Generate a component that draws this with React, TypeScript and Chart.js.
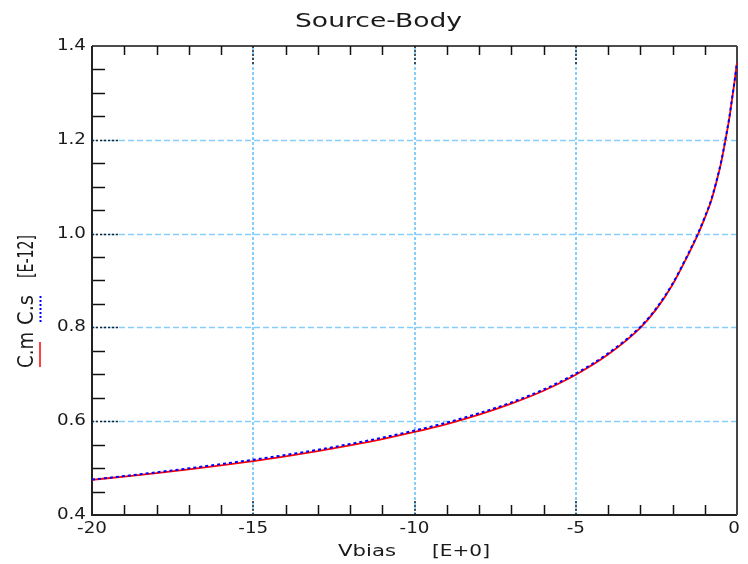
import { useEffect, useRef } from "react";
import { Chart, registerables } from "chart.js";

Chart.register(...registerables);

// ---- data ----
const vbias = [-20, -19, -18, -17, -16, -15, -14, -13, -12, -11, -10, -9, -8, -7, -6, -5, -4, -3, -2.5, -2, -1.6, -1.2, -1.0, -0.8, -0.63, -0.48, -0.37, -0.24, -0.16, -0.08, 0];
const cm = [0.475, 0.482, 0.4895, 0.4975, 0.506, 0.515, 0.525, 0.536, 0.5483, 0.5618, 0.577, 0.594, 0.614, 0.6375, 0.665, 0.699, 0.742, 0.799, 0.839, 0.891, 0.943, 1.000, 1.033, 1.070, 1.112, 1.155, 1.195, 1.245, 1.283, 1.322, 1.365];
const cs = [0.4755, 0.483, 0.491, 0.4995, 0.5085, 0.5178, 0.528, 0.539, 0.5513, 0.5648, 0.580, 0.597, 0.617, 0.640, 0.6675, 0.7015, 0.7445, 0.801, 0.841, 0.893, 0.945, 1.002, 1.035, 1.072, 1.114, 1.157, 1.197, 1.247, 1.285, 1.323, 1.365];

const xTickValues = [-20, -15, -10, -5, 0];
const xTickLabels = ["-20", "-15", "-10", "-5", "0"];
const yTickValues = [0.4, 0.6, 0.8, 1.0, 1.2, 1.4];
const yTickLabels = ["0.4", "0.6", "0.8", "1.0", "1.2", "1.4"];
const xMinorStep = 1;
const yMinorStep = 0.05;

const titleText = "Source-Body";
const xTitleParts = ["Vbias", "[E+0]"];
const yTitleParts = ["C.m", "C.s", "[E-12]"];

const FONT = "'DejaVu Sans', 'Liberation Sans', sans-serif";
const GRID = "rgb(135,206,250)";
const INK = "#1a1a1a";

function fitText(ctx: CanvasRenderingContext2D, text: string, x: number, y: number, size: number, width: number) {
  ctx.save();
  ctx.font = `${size}px ${FONT}`;
  const w = ctx.measureText(text).width;
  ctx.translate(x, y);
  ctx.scale(width / w, 1);
  ctx.textAlign = "left";
  ctx.textBaseline = "alphabetic";
  ctx.fillStyle = INK;
  ctx.fillText(text, 0, 0);
  ctx.restore();
}

function stretchedText(ctx: CanvasRenderingContext2D, text: string, x: number, y: number, size: number, sx: number, align: CanvasTextAlign) {
  ctx.save();
  ctx.font = `${size}px ${FONT}`;
  ctx.translate(x, y);
  ctx.scale(sx, 1);
  ctx.textAlign = align;
  ctx.textBaseline = "alphabetic";
  ctx.fillStyle = INK;
  ctx.fillText(text, 0, 0);
  ctx.restore();
}

// rotated text: runs upward from (x, yStart) over length len, baseline at x
function rotatedFit(ctx: CanvasRenderingContext2D, text: string, x: number, yStart: number, len: number, size: number, sy: number) {
  ctx.save();
  ctx.font = `${size}px ${FONT}`;
  const w = ctx.measureText(text).width;
  ctx.translate(x, yStart);
  ctx.rotate(-Math.PI / 2);
  ctx.scale(len / w, sy);
  ctx.textAlign = "left";
  ctx.textBaseline = "alphabetic";
  ctx.fillStyle = INK;
  ctx.fillText(text, 0, 0);
  ctx.restore();
}

const framePlugin = {
  id: "framePlugin",
  beforeDatasetsDraw(chart: any) {
    const ctx: CanvasRenderingContext2D = chart.ctx;
    const xs = chart.scales.x;
    const ys = chart.scales.y;
    const { left, right, top, bottom } = chart.chartArea;
    ctx.save();
    // horizontal grid (dashed)
    ctx.strokeStyle = GRID;
    ctx.lineWidth = 1.5;
    ctx.setLineDash([6, 3]);
    yTickValues.forEach((v) => {
      if (v <= ys.min || v >= ys.max) return;
      const y = Math.round(ys.getPixelForValue(v)) + 0.5;
      ctx.beginPath();
      ctx.moveTo(left, y);
      ctx.lineTo(right, y);
      ctx.stroke();
    });
    // vertical grid (dotted)
    ctx.lineWidth = 2;
    ctx.setLineDash([3, 2]);
    xTickValues.forEach((v) => {
      if (v <= xs.min || v >= xs.max) return;
      const x = Math.round(xs.getPixelForValue(v));
      ctx.beginPath();
      ctx.moveTo(x, bottom);
      ctx.lineTo(x, top);
      ctx.stroke();
    });
    // major ticks: black dotted
    ctx.strokeStyle = "#222";
    ctx.lineWidth = 1.5;
    ctx.setLineDash([2, 2]);
    xTickValues.forEach((v) => {
      if (v <= xs.min || v >= xs.max) return;
      const x = Math.round(xs.getPixelForValue(v));
      ctx.beginPath();
      ctx.moveTo(x, bottom);
      ctx.lineTo(x, bottom - 15);
      ctx.moveTo(x, top);
      ctx.lineTo(x, top + 19);
      ctx.stroke();
    });
    yTickValues.forEach((v) => {
      if (v <= ys.min || v >= ys.max) return;
      const y = Math.round(ys.getPixelForValue(v)) + 0.5;
      ctx.beginPath();
      ctx.moveTo(left, y);
      ctx.lineTo(left + 26, y);
      ctx.stroke();
    });
    ctx.setLineDash([]);
    // minor ticks (inward)
    ctx.strokeStyle = "#111";
    ctx.lineWidth = 1.5;
    const nx = Math.round((xs.max - xs.min) / xMinorStep);
    for (let i = 1; i < nx; i++) {
      const v = xs.min + i * xMinorStep;
      if (xTickValues.some((t) => Math.abs(t - v) < 1e-6)) continue;
      const x = Math.round(xs.getPixelForValue(v)) + 0.5;
      ctx.beginPath();
      ctx.moveTo(x, bottom);
      ctx.lineTo(x, bottom - 10);
      ctx.moveTo(x, top);
      ctx.lineTo(x, top + 9);
      ctx.stroke();
    }
    const ny = Math.round((ys.max - ys.min) / yMinorStep);
    for (let i = 1; i < ny; i++) {
      const v = ys.min + i * yMinorStep;
      if (yTickValues.some((t) => Math.abs(t - v) < 1e-6)) continue;
      const y = Math.round(ys.getPixelForValue(v)) + 0.5;
      ctx.beginPath();
      ctx.moveTo(left, y);
      ctx.lineTo(left + 13, y);
      ctx.stroke();
    }
    // frame
    ctx.lineWidth = 2;
    ctx.strokeStyle = "#222";
    ctx.beginPath();
    ctx.moveTo(left, top);
    ctx.lineTo(left, bottom);
    ctx.lineTo(right, bottom);
    ctx.stroke();
    ctx.lineWidth = 1.5;
    ctx.strokeStyle = "#111";
    ctx.beginPath();
    ctx.moveTo(left, top);
    ctx.lineTo(right, top);
    ctx.stroke();
    ctx.lineWidth = 2;
    ctx.strokeStyle = "#444";
    ctx.beginPath();
    ctx.moveTo(right, top);
    ctx.lineTo(right, bottom);
    ctx.stroke();

    // tick labels
    xTickValues.forEach((v, i) => {
      let x = xs.getPixelForValue(v);
      if (i === xTickValues.length - 1) x -= 3;
      stretchedText(ctx, xTickLabels[i], x, bottom + 18, 15, 1.22, "center");
    });
    yTickValues.forEach((v, i) => {
      const y = ys.getPixelForValue(v);
      stretchedText(ctx, yTickLabels[i], left - 6, y + 4, 15, 1.22, "right");
    });

    // titles
    fitText(ctx, titleText, 295, 26.5, 19, 167);
    fitText(ctx, xTitleParts[0], 338, 556, 15, 58);
    fitText(ctx, xTitleParts[1], 432, 556, 15, 58);
    rotatedFit(ctx, yTitleParts[0], 33, 368, 36, 15, 1.4);
    rotatedFit(ctx, yTitleParts[1], 33, 325, 30, 15, 1.4);
    rotatedFit(ctx, yTitleParts[2], 33, 278, 43, 15, 1.4);

    // legend swatches beside y title
    ctx.lineWidth = 1.5;
    ctx.strokeStyle = "#ff0000";
    ctx.beginPath();
    ctx.moveTo(40, 367);
    ctx.lineTo(40, 342);
    ctx.stroke();
    ctx.lineWidth = 2;
    ctx.strokeStyle = "#0000ff";
    ctx.setLineDash([2, 2]);
    ctx.beginPath();
    ctx.moveTo(40.5, 322);
    ctx.lineTo(40.5, 295);
    ctx.stroke();
    ctx.restore();
  },
};

export default function App() {
  const canvasRef = useRef<HTMLCanvasElement | null>(null);

  useEffect(() => {
    if (!canvasRef.current) return;
    const chart = new Chart(canvasRef.current, {
      type: "line",
      data: {
        datasets: [
          {
            label: "C.s",
            data: vbias.map((x, i) => ({ x, y: cs[i] })),
            borderColor: "#0000ff",
            borderWidth: 2,
            borderDash: [3, 3],
            pointRadius: 0,
            cubicInterpolationMode: "monotone",
            fill: false,
            order: 0,
          },
          {
            label: "C.m",
            data: vbias.map((x, i) => ({ x, y: cm[i] })),
            borderColor: "#ff0000",
            borderWidth: 1.8,
            pointRadius: 0,
            cubicInterpolationMode: "monotone",
            fill: false,
            order: 1,
          },
        ],
      },
      options: {
        animation: false,
        responsive: true,
        maintainAspectRatio: false,
        layout: { padding: { left: 92, right: 11, top: 46, bottom: 49 } },
        plugins: {
          legend: { display: false },
          title: { display: false },
          tooltip: { enabled: false },
        },
        scales: {
          x: {
            type: "linear",
            min: -20,
            max: 0,
            ticks: { display: false, stepSize: 5 },
            grid: { display: false },
            border: { display: false },
            afterFit: (s: any) => {
              s.height = 0;
            },
          },
          y: {
            type: "linear",
            min: 0.4,
            max: 1.4,
            ticks: { display: false, stepSize: 0.2 },
            grid: { display: false },
            border: { display: false },
            afterFit: (s: any) => {
              s.width = 0;
            },
          },
        },
      },
      plugins: [framePlugin],
    } as any);
    return () => chart.destroy();
  }, []);

  return (
    <div style={{ position: "fixed", left: 0, top: 0, width: 748, height: 564, background: "#fff" }}>
      <canvas ref={canvasRef} />
    </div>
  );
}
